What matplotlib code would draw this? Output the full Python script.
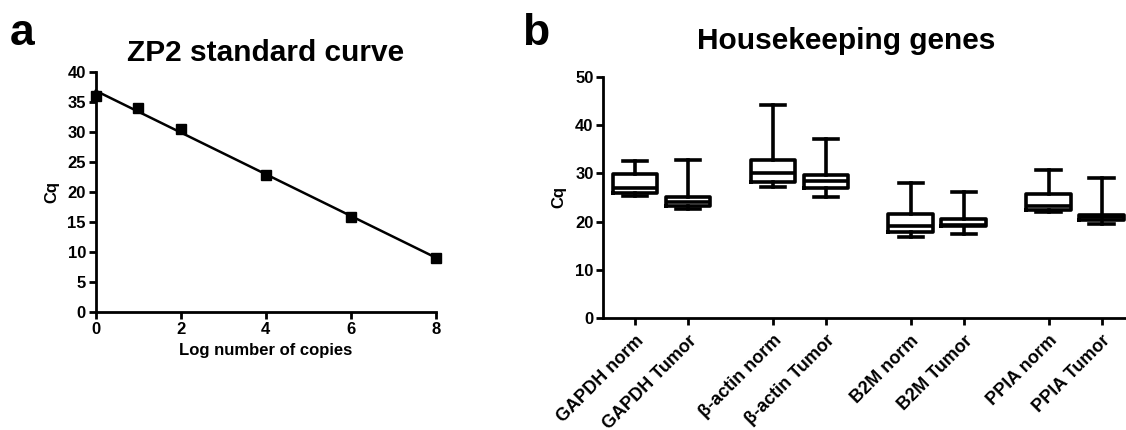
import numpy as np
import matplotlib
matplotlib.use("Agg")
import matplotlib.pyplot as plt

plt.rcParams['font.family'] = ['Liberation Sans', 'DejaVu Sans']
plt.rcParams['font.weight'] = 'bold'

# panel a: standard curve
log_copies = [0, 1, 2, 4, 6, 8]
cq_values = [35.9, 34.0, 30.5, 22.9, 15.9, 9.0]

# panel b: housekeeping genes box stats
gene_labels = ["GAPDH norm", "GAPDH Tumor", "β-actin norm", "β-actin Tumor",
               "B2M norm", "B2M Tumor", "PPIA norm", "PPIA Tumor"]
whis_low = [25.3, 22.6, 27.2, 25.2, 16.9, 17.4, 22.1, 19.6]
q1_vals = [26.0, 23.3, 28.2, 27.0, 17.9, 19.0, 22.5, 20.3]
med_vals = [26.9, 24.0, 30.1, 28.4, 19.0, 19.4, 23.3, 20.9]
q3_vals = [29.9, 25.2, 32.7, 29.7, 21.5, 20.6, 25.7, 21.4]
whis_high = [32.5, 32.7, 44.1, 37.1, 28.0, 26.2, 30.7, 29.0]
box_pos = [0, 1, 2.6, 3.6, 5.2, 6.2, 7.8, 8.8]

W, H = 1126, 430
fig = plt.figure(figsize=(W / 100, H / 100), dpi=100)

def style_axes(ax):
    for s in ['top', 'right']:
        ax.spines[s].set_visible(False)
    for s in ['left', 'bottom']:
        ax.spines[s].set_linewidth(2.0)
    ax.tick_params(direction='out', length=5, width=2.0, labelsize=12, pad=2)
    for lab in ax.get_xticklabels() + ax.get_yticklabels():
        lab.set_fontweight('bold')

# ---- panel a
axa = fig.add_axes([95.7 / W, (H - 312.3) / H, 340 / W, 240.6 / H])
axa.set_xlim(0, 8)
axa.set_ylim(0, 40)
axa.set_xticks([0, 2, 4, 6, 8])
axa.set_yticks(np.arange(0, 41, 5))
slope, icpt = np.polyfit(log_copies, cq_values, 1)
xs = np.array([0, 8])
axa.plot(xs, slope * xs + icpt, color='black', lw=1.8, clip_on=False, zorder=3)
axa.plot(log_copies, cq_values, 's', color='black', ms=7.5, clip_on=False, zorder=4)
style_axes(axa)
axa.set_title("ZP2 standard curve", fontsize=21.5, fontweight='bold', pad=8)
axa.set_xlabel("Log number of copies", fontsize=12, fontweight='bold', labelpad=4)
axa.set_ylabel("Cq", fontsize=12, fontweight='bold', labelpad=6)

# ---- panel b
axb = fig.add_axes([603.3 / W, (H - 318.3) / H, 530 / W, 241.6 / H])
stats = []
for i in range(len(gene_labels)):
    stats.append(dict(whislo=whis_low[i], q1=q1_vals[i], med=med_vals[i],
                      q3=q3_vals[i], whishi=whis_high[i], label=gene_labels[i]))
lw = 2.6
axb.bxp(stats, positions=box_pos, widths=0.84, capwidths=0.46, showfliers=False,
        boxprops=dict(color='black', lw=lw),
        medianprops=dict(color='black', lw=lw),
        whiskerprops=dict(color='black', lw=lw),
        capprops=dict(color='black', lw=lw))
axb.set_xlim(-0.6, 9.4)
axb.set_ylim(0, 50)
axb.set_yticks(np.arange(0, 51, 10))
style_axes(axb)
axb.set_xticks(box_pos)
axb.set_xticklabels(gene_labels, rotation=45, ha='right', rotation_mode='anchor',
                    fontsize=13, fontweight='bold')
axb.tick_params(axis='x', pad=5)
axb.set_ylabel("Cq", fontsize=12, fontweight='bold', labelpad=6)
axb.set_title("Housekeeping genes", fontsize=21.5, fontweight='bold', pad=20,
              x=(846 - 603.3) / 530)

fig.text(10 / W, 1 - 45 / H, "a", fontsize=32, fontweight='bold')
fig.text(522 / W, 1 - 45 / H, "b", fontsize=32, fontweight='bold')

fig.savefig("out.png", dpi=100)
